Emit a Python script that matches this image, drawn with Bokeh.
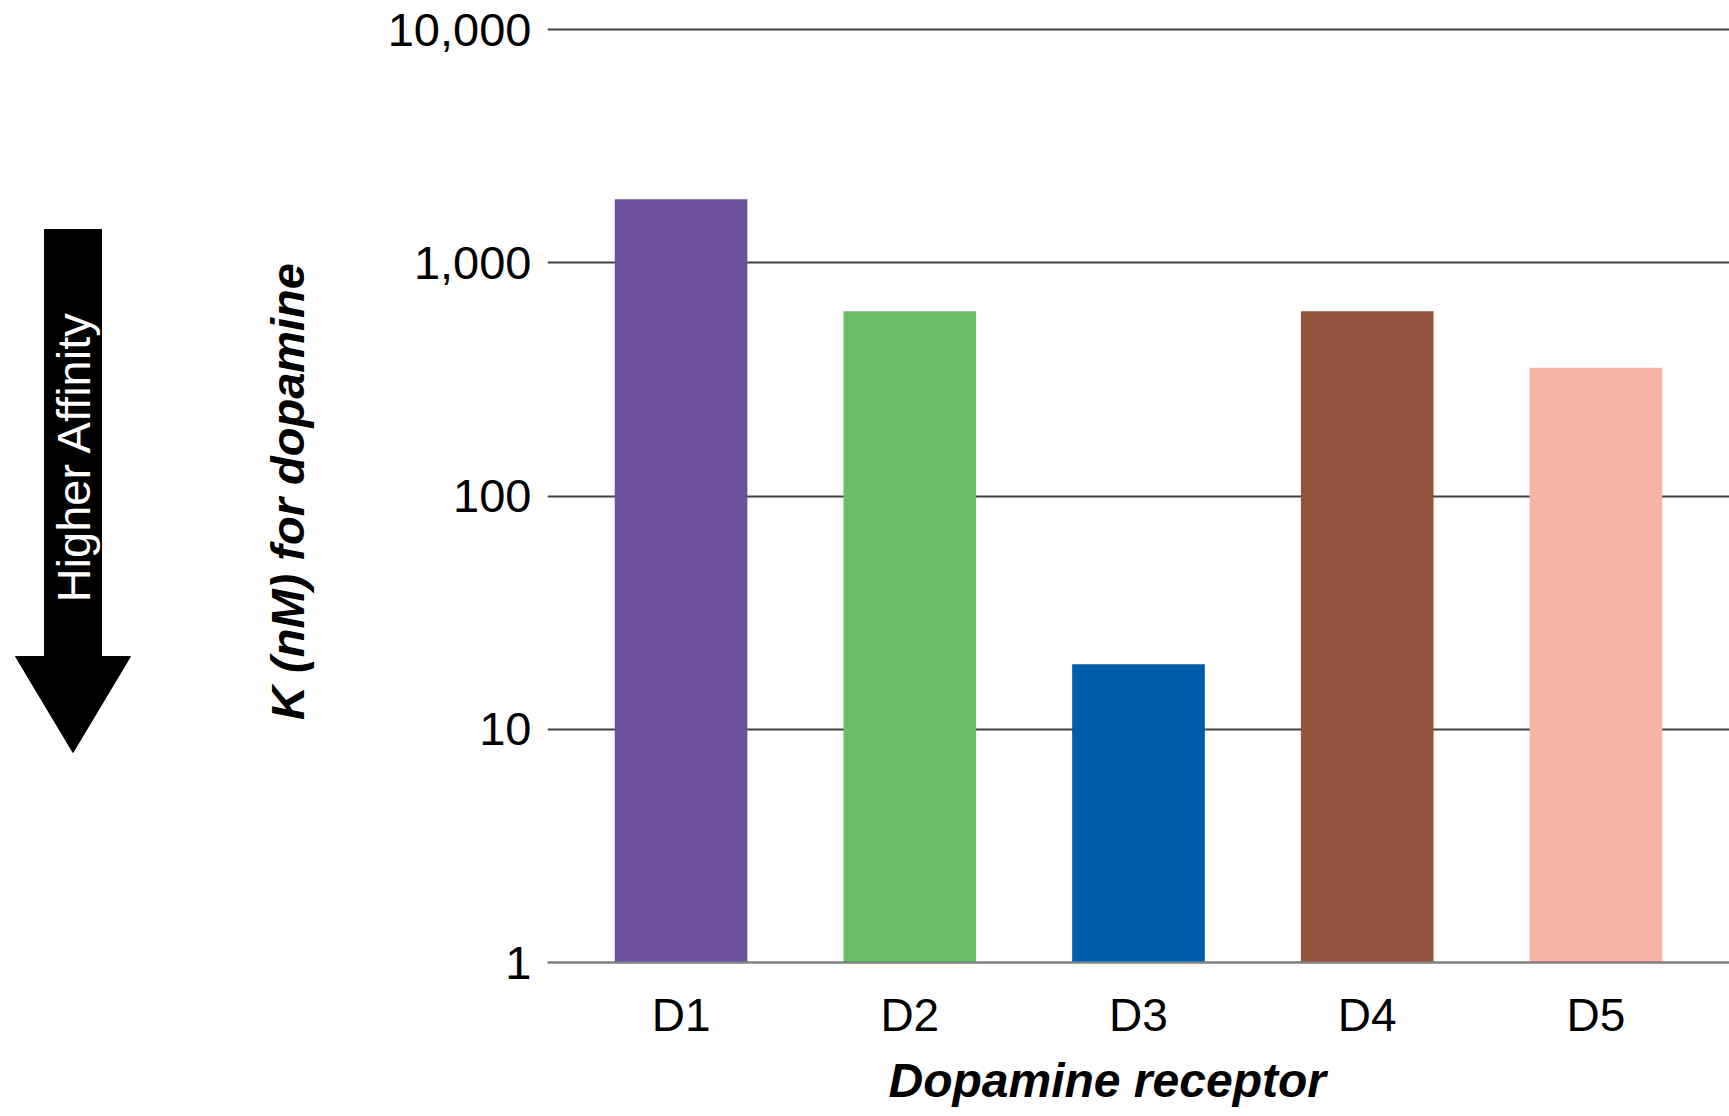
from bokeh.plotting import figure
from bokeh.models import (FactorRange, Range1d, FixedTicker, NumeralTickFormatter,
                          ColumnDataSource, Title)
from bokeh.layouts import row
from bokeh.core.properties import value
from bokeh.embed import file_html
from bokeh.resources import INLINE
import math

# ---- data ----
receptors = ["D1", "D2", "D3", "D4", "D5"]
k_nm = [1870, 620, 19, 620, 355]
bar_colors = ["#6C4F9D", "#6BBF6A", "#005BAA", "#94533D", "#F7B5A8"]
y_ticks = [1, 10, 100, 1000, 10000]

FONT = "Liberation Sans"
W, H = 1729, 1116
ARROW_W = 200
frame_top, frame_bottom = 20, 962
frame_left = 547

# ---- arrow panel (page-pixel coordinates) ----
a = figure(width=ARROW_W, height=H, output_backend="svg", toolbar_location=None,
           x_range=Range1d(0, ARROW_W), y_range=Range1d(frame_bottom, frame_top),
           min_border_left=0, min_border_right=0,
           min_border_top=frame_top, min_border_bottom=H - frame_bottom,
           outline_line_color=None)
a.axis.visible = False
a.grid.visible = False
shaft_l, shaft_r, top, neck, tip = 44, 101, 229, 656, 752
head_l, head_r = 15, 130
cx = (shaft_l + shaft_r) / 2
a.patch([shaft_l, shaft_r, shaft_r, head_r, cx, head_l, shaft_l],
        [top, top, neck, neck, tip, neck, neck],
        fill_color="black", line_color="black", line_width=1)
a.text(x=[cx], y=[456], text=["Higher Affinity"], angle=math.pi / 2,
       text_color="white", text_font=value(FONT), text_font_size="47px",
       text_align="center", text_baseline="middle")

# ---- main chart ----
decade_px = 233.25
y_end = 10 ** ((frame_bottom - frame_top) / decade_px)

src = ColumnDataSource(dict(r=receptors, k=k_nm, c=bar_colors))

p = figure(width=W - ARROW_W, height=H, output_backend="svg", toolbar_location=None,
           x_range=FactorRange(*receptors, range_padding=0.084,
                               range_padding_units="absolute"),
           y_axis_type="log", y_range=Range1d(1, y_end),
           min_border_left=frame_left - ARROW_W, min_border_right=0,
           min_border_top=frame_top, min_border_bottom=H - frame_bottom,
           outline_line_color=None)

p.vbar(x="r", top="k", bottom=1, width=0.58, fill_color="c", line_color=None,
       source=src)

p.xgrid.visible = False
p.ygrid.ticker = FixedTicker(ticks=y_ticks)
p.ygrid.grid_line_color = "#404040"
p.ygrid.grid_line_width = 2

p.yaxis.ticker = FixedTicker(ticks=y_ticks)
p.yaxis.formatter = NumeralTickFormatter(format="0,0")
p.yaxis.axis_line_color = None
p.yaxis.major_tick_line_color = None
p.yaxis.minor_tick_line_color = None
p.yaxis.major_label_standoff = 10
p.yaxis.major_label_text_font = FONT
p.yaxis.major_label_text_font_size = "47px"
p.yaxis.major_label_text_color = "black"
p.yaxis.axis_label = "K (nM) for dopamine"
p.yaxis.axis_label_text_font = FONT
p.yaxis.axis_label_text_font_style = "bold italic"
p.yaxis.axis_label_text_font_size = "47px"
p.yaxis.axis_label_text_color = "black"
p.yaxis.axis_label_standoff = 71

p.xaxis.axis_line_color = "#808080"
p.xaxis.axis_line_width = 2.5
p.xaxis.major_tick_line_color = None
p.xaxis.minor_tick_line_color = None
p.xaxis.major_label_standoff = 20
p.xaxis.major_label_text_font = FONT
p.xaxis.major_label_text_font_size = "46px"
p.xaxis.major_label_text_color = "black"

xt = Title(text="Dopamine receptor", align="left", offset=888 - frame_left,
           text_font=FONT, text_font_style="bold italic", text_font_size="48px",
           text_color="black", standoff=16)
p.add_layout(xt, "below")

layout = row(a, p, spacing=0)
open("out.html", "w").write(file_html(layout, INLINE))
